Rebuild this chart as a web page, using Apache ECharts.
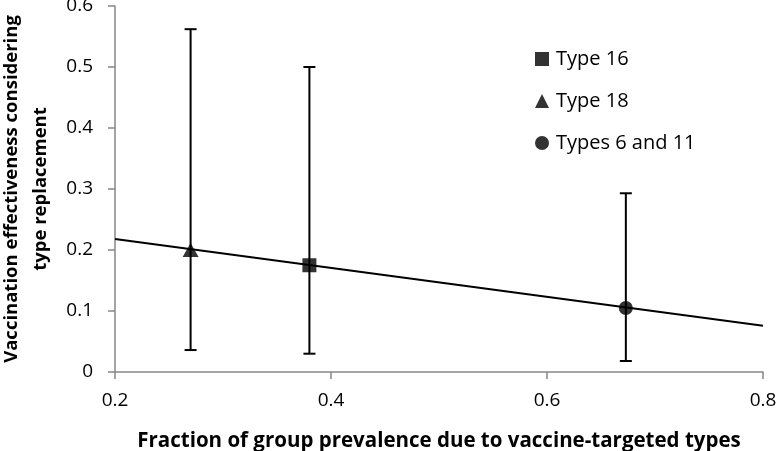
<!DOCTYPE html>
<html>
<head>
<meta charset="utf-8">
<script src="https://cdn.jsdelivr.net/npm/echarts@6/dist/echarts.min.js"></script>
<style>html,body{margin:0;padding:0;background:#fff;}#c{width:780px;height:451px;}</style>
</head>
<body>
<div id="c"></div>
<script>
// Data
const seriesNames = ['Type 16', 'Type 18', 'Types 6 and 11'];
const symbols = ['rect', 'triangle', 'circle'];
const xVals = [0.38, 0.27, 0.673];
const yVals = [0.175, 0.2, 0.105];
const lowVals = [0.030, 0.036, 0.018];
const highVals = [0.500, 0.562, 0.293];
const trendX = [0.2, 0.8];
const trendY = [0.218, 0.076];
const xTicks = [0.2, 0.4, 0.6, 0.8];
const yTicks = [0, 0.1, 0.2, 0.3, 0.4, 0.5, 0.6];

const chart = echarts.init(document.getElementById('c'), null, {renderer: 'canvas'});
const font = '"Open Sans", "DejaVu Sans", sans-serif';

const errData = xVals.map((x, i) => [x, lowVals[i], highVals[i]]);

const series = [
  {
    type: 'line',
    data: trendX.map((x, i) => [x, trendY[i]]),
    symbol: 'none',
    lineStyle: {color: '#000', width: 2},
    silent: true,
    z: 2
  },
  {
    type: 'custom',
    data: errData,
    z: 3,
    silent: true,
    renderItem: function (params, api) {
      const x = api.value(0);
      const lo = api.coord([x, api.value(1)]);
      const hi = api.coord([x, api.value(2)]);
      const hw = 6;
      const st = {stroke: '#000', lineWidth: 2};
      return {
        type: 'group',
        children: [
          {type: 'line', shape: {x1: lo[0], y1: lo[1], x2: hi[0], y2: hi[1]}, style: st},
          {type: 'line', shape: {x1: lo[0] - hw, y1: lo[1], x2: lo[0] + hw, y2: lo[1]}, style: st},
          {type: 'line', shape: {x1: hi[0] - hw, y1: hi[1], x2: hi[0] + hw, y2: hi[1]}, style: st}
        ]
      };
    }
  }
];
seriesNames.forEach((name, i) => {
  series.push({
    name: name,
    type: 'scatter',
    symbol: symbols[i],
    symbolSize: symbols[i] === 'triangle' ? [16, 14] : 14,
    itemStyle: {color: '#000'},
    data: [[xVals[i], yVals[i]]],
    z: 5
  });
});

chart.setOption({
  animation: false,
  backgroundColor: '#fff',
  grid: {left: 115, right: 17, top: 6, bottom: 79, containLabel: false, outerBoundsMode: 'none'},
  legend: {
    orient: 'vertical',
    left: 530,
    top: 44,
    itemGap: 22,
    itemWidth: 14,
    itemHeight: 14,
    data: seriesNames.map((n, i) => ({name: n, icon: symbols[i]})),
    textStyle: {color: '#000', fontSize: 20, fontFamily: font, padding: [0, 0, 0, 2]}
  },
  xAxis: {
    type: 'value',
    min: 0.2,
    max: 0.8,
    interval: 0.2,
    name: 'Fraction of group prevalence due to vaccine-targeted types',
    nameLocation: 'middle',
    nameGap: 59,
    nameTextStyle: {color: '#000', fontSize: 20.5, fontWeight: 'bold', fontFamily: font},
    axisLine: {lineStyle: {color: '#868686', width: 1.5}},
    axisTick: {show: true, inside: false, length: 7, lineStyle: {color: '#868686', width: 1.5}},
    axisLabel: {color: '#000', fontSize: 19, fontFamily: font, margin: 19,
      formatter: v => xTicks.find(t => Math.abs(t - v) < 1e-9) !== undefined ? String(v) : ''},
    splitLine: {show: false}
  },
  yAxis: {
    type: 'value',
    min: 0,
    max: 0.6,
    interval: 0.1,
    name: 'Vaccination effectiveness considering\ntype replacement',
    nameLocation: 'middle',
    nameGap: 58,
    nameRotate: 90,
    nameTextStyle: {color: '#000', fontSize: 18.5, fontWeight: 'bold', fontFamily: font, lineHeight: 29},
    axisLine: {show: true, lineStyle: {color: '#868686', width: 1.5}},
    axisTick: {show: true, inside: false, length: 7, lineStyle: {color: '#868686', width: 1.5}},
    axisLabel: {color: '#000', fontSize: 19, fontFamily: font, margin: 22,
      formatter: v => {
        const t = yTicks.find(t => Math.abs(t - v) < 1e-9);
        return t === undefined ? '' : (t === 0 ? '0' : t.toFixed(1));
      }},
    splitLine: {show: false}
  },
  series: series
});
</script>
</body>
</html>
